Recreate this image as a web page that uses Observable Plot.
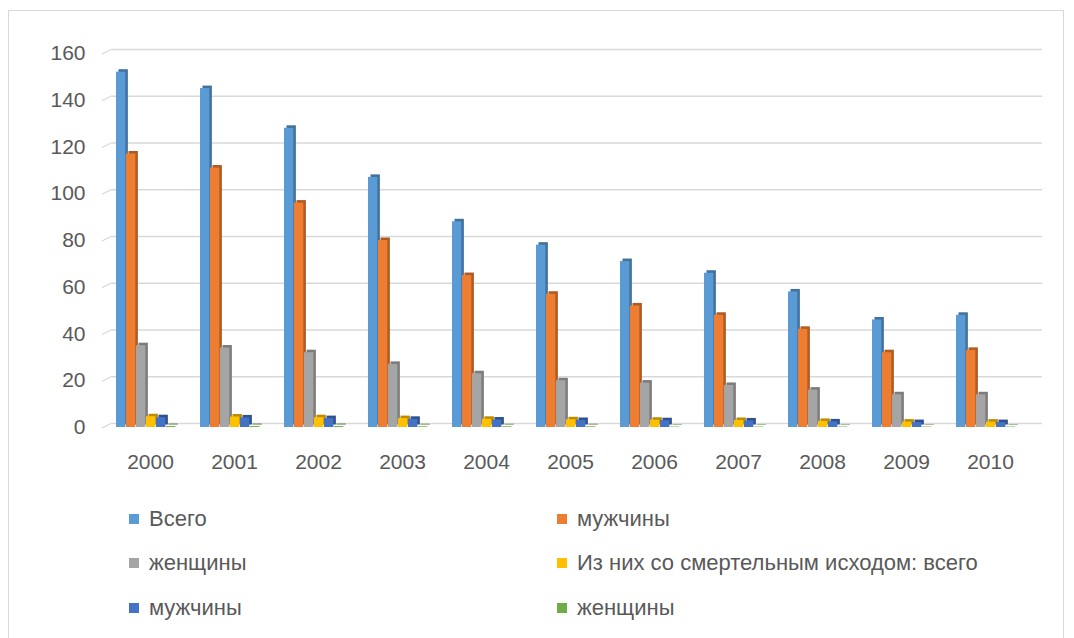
<!DOCTYPE html>
<html>
<head>
<meta charset="utf-8">
<script src="https://cdn.jsdelivr.net/npm/d3@7"></script>
<script src="https://cdn.jsdelivr.net/npm/@observablehq/plot@0.6"></script>
<style>
  html, body { margin: 0; padding: 0; background: #fff; }
  body { width: 1074px; height: 638px; overflow: hidden; position: relative; font-family: "Liberation Sans", Arial, sans-serif; }
  #frame { position: absolute; left: 8px; top: 10px; width: 1056px; height: 660px; border: 1px solid #d9d9d9; box-sizing: border-box; }
  #chart { position: absolute; left: 0; top: 0; }
  #legend { position: absolute; left: 0; top: 0; width: 1074px; }
  .item { position: absolute; display: flex; align-items: center; font-size: 22px; color: #595959; white-space: nowrap; line-height: 1; }
  .sw { width: 10px; height: 10px; margin-right: 10px; }
</style>
</head>
<body>
<div id="frame"></div>
<div id="chart"></div>
<div id="legend"></div>
<script>
// ---- data ----
const years = ["2000","2001","2002","2003","2004","2005","2006","2007","2008","2009","2010"];
const legendLabels = ["Всего", "мужчины", "женщины", "Из них со смертельным исходом: всего", "мужчины", "женщины"];
const total        = [152, 145, 128, 107, 88, 78, 71, 66, 58, 46, 48];
const men          = [117, 111, 96, 80, 65, 57, 52, 48, 42, 32, 33];
const women        = [35, 34, 32, 27, 23, 20, 19, 18, 16, 14, 14];
const deathsTotal  = [4.6, 4.5, 4.2, 3.8, 3.5, 3.3, 3.1, 3.0, 2.6, 2.3, 2.3];
const deathsMen    = [4.2, 4.1, 3.8, 3.5, 3.2, 3.0, 2.9, 2.8, 2.4, 2.1, 2.1];
const deathsWomen  = [0.4, 0.4, 0.4, 0.3, 0.3, 0.3, 0.2, 0.2, 0.2, 0.2, 0.2];
const yTicks = [0, 20, 40, 60, 80, 100, 120, 140, 160];

const colors     = ["#5B9BD5", "#ED7D31", "#A5A5A5", "#FFC000", "#4472C4", "#70AD47"];
const sideColors = ["#41719C", "#AE5A21", "#7C7C7C", "#BC8C00", "#2F528F", "#507E32"];

const allSeries = [total, men, women, deathsTotal, deathsMen, deathsWomen];

// ---- layout ----
const W = 1074, H = 480;
const mL = 104, mR = 39, mT = 53, mB = 53;
const bw = (W - mL - mR) / years.length;
const groupOffset = 8, barW = 10;
const depth = 2.5;

const marks = [];
// back-wall gridlines
marks.push(Plot.ruleY(yTicks, {stroke: "#d9d9d9", strokeWidth: 1.3, insetLeft: 8, insetRight: -7, dy: -4}));
// side-wall diagonals
marks.push((index, scales) => {
  const g = document.createElementNS("http://www.w3.org/2000/svg", "g");
  for (const t of yTicks) {
    const y = scales.y(t);
    const l = document.createElementNS("http://www.w3.org/2000/svg", "line");
    l.setAttribute("x1", mL - 2); l.setAttribute("y1", y + 1);
    l.setAttribute("x2", mL + 8); l.setAttribute("y2", y - 4);
    l.setAttribute("stroke", "#d9d9d9"); l.setAttribute("stroke-width", 1.3);
    g.appendChild(l);
  }
  return g;
});

allSeries.forEach((vals, i) => {
  const data = years.map((y, j) => ({year: y, value: vals[j]}));
  const insetLeft = groupOffset + barW * i;
  const insetRight = bw - groupOffset - barW * (i + 1);
  // 3D side/top face
  marks.push(Plot.barY(data, {x: "year", y: "value", fill: sideColors[i], insetLeft, insetRight, dx: depth, dy: -depth}));
  // front face
  marks.push(Plot.barY(data, {x: "year", y: "value", fill: colors[i], insetLeft, insetRight}));
});

const chart = Plot.plot({
  width: W,
  height: H,
  marginLeft: mL,
  marginRight: mR,
  marginTop: mT,
  marginBottom: mB,
  style: {fontFamily: "Liberation Sans, Arial, sans-serif", fontSize: "21px", color: "#595959", background: "transparent"},
  x: {domain: years, padding: 0, tickSize: 0, tickPadding: 27, label: null},
  y: {domain: [0, 160], ticks: yTicks, tickSize: 0, tickPadding: 19, label: null},
  marks
});
document.getElementById("chart").appendChild(chart);

// ---- legend ----
const legend = document.getElementById("legend");
const pos = [[129, 519], [557, 519], [129, 563], [557, 563], [129, 608], [557, 608]];
legendLabels.forEach((lab, i) => {
  const d = document.createElement("div");
  d.className = "item";
  d.style.left = pos[i][0] + "px";
  d.style.top = (pos[i][1] - 11) + "px";
  d.innerHTML = `<span class="sw" style="background:${colors[i]}"></span><span>${lab}</span>`;
  legend.appendChild(d);
});
</script>
</body>
</html>
